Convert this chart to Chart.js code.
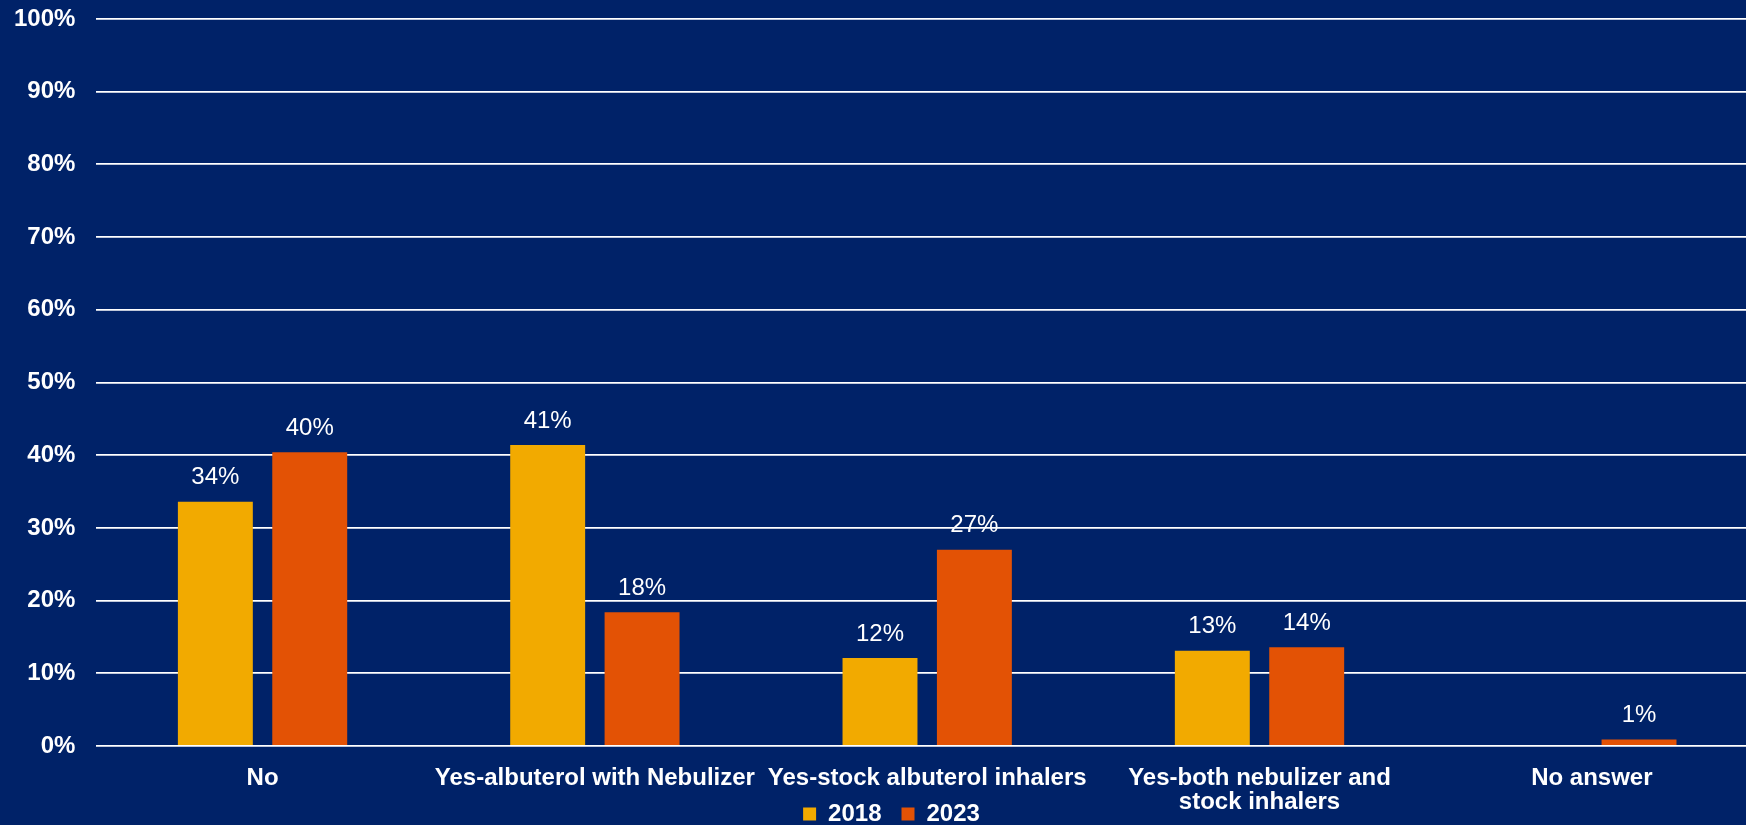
<!DOCTYPE html>
<html>
<head>
<meta charset="utf-8">
<title>Stock albuterol 2018 vs 2023</title>
<script src="https://cdn.jsdelivr.net/npm/chart.js@4.4.1/dist/chart.umd.min.js"></script>
<style>
  html, body { margin: 0; padding: 0; background: #002268; overflow: hidden; }
  /* plot runs a little past the right edge of the window, as in the original */
  #wrap { position: relative; width: 1758px; height: 825px; }
</style>
</head>
<body>
<div id="wrap"><canvas id="chart"></canvas></div>
<script>
// ---------- data ----------
const categories = [
  'No',
  'Yes-albuterol with Nebulizer',
  'Yes-stock albuterol inhalers',
  ['Yes-both nebulizer and', 'stock inhalers'],
  'No answer'
];
const seriesNames = ['2018', '2023'];
const values2018 = [33.6, 41.4, 12.1, 13.1, null];
const values2023 = [40.4, 18.4, 27.0, 13.6, 0.9];
const yTicks = [0, 10, 20, 30, 40, 50, 60, 70, 80, 90, 100];

const FONT = 'Liberation Sans, Arial, Helvetica, sans-serif';

// ---------- value labels above bars ----------
const barLabels = {
  id: 'barLabels',
  afterDatasetsDraw(chart) {
    const ctx = chart.ctx;
    ctx.save();
    ctx.font = '24px ' + FONT;
    ctx.fillStyle = '#ffffff';
    ctx.textAlign = 'center';
    ctx.textBaseline = 'middle';
    chart.data.datasets.forEach((ds, di) => {
      chart.getDatasetMeta(di).data.forEach((bar, i) => {
        const v = ds.data[i];
        if (v === null || v === undefined) return;
        ctx.fillText(Math.round(v) + '%', bar.x, bar.y - 24);
      });
    });
    ctx.restore();
  }
};

// the x axis is squeezed so the legend sits level with its second label line;
// let its labels draw past the squeezed box instead of being clipped,
// and nudge the legend a bit right like the original
const layoutTweaks = {
  id: 'layoutTweaks',
  afterLayout(chart) {
    chart.scales.x.bottom = chart.height;
    chart.legend.left += 16;
    chart.legend.right += 16;
  }
};

new Chart(document.getElementById('chart'), {
  type: 'bar',
  data: {
    labels: categories,
    datasets: [
      { label: seriesNames[0], data: values2018, backgroundColor: '#f2aa00' },
      { label: seriesNames[1], data: values2023, backgroundColor: '#e35205' }
    ]
  },
  options: {
    responsive: true,
    maintainAspectRatio: false,
    animation: false,
    categoryPercentage: 0.568,
    barPercentage: 0.794,
    layout: { padding: { left: -7, top: 19, right: 0, bottom: -11 } },
    plugins: {
      legend: {
        position: 'bottom',
        labels: {
          color: '#ffffff',
          boxWidth: 13,
          boxHeight: 13,
          padding: 20,
          font: { family: FONT, size: 24, weight: 'bold' }
        }
      },
      tooltip: { enabled: false }
    },
    scales: {
      x: {
        grid: { display: false },
        border: { display: false },
        ticks: {
          color: '#ffffff',
          padding: 12,
          maxRotation: 0,
          autoSkip: false,
          font: { family: FONT, size: 24, weight: 'bold', lineHeight: 1 }
        },
        afterFit(scale) { scale.height = 36; }
      },
      y: {
        min: 0,
        max: 100,
        afterBuildTicks(scale) { scale.ticks = yTicks.map((v) => ({ value: v })); },
        afterFit(scale) { scale.paddingTop = 0; scale.paddingBottom = 0; },
        grid: { color: '#ffffff', lineWidth: 1.8, drawTicks: false },
        border: { display: false },
        ticks: {
          color: '#ffffff',
          padding: 21,
          font: { family: FONT, size: 24, weight: 'bold' },
          callback: (v) => v + '%'
        }
      }
    }
  },
  plugins: [barLabels, layoutTweaks]
});
</script>
</body>
</html>
